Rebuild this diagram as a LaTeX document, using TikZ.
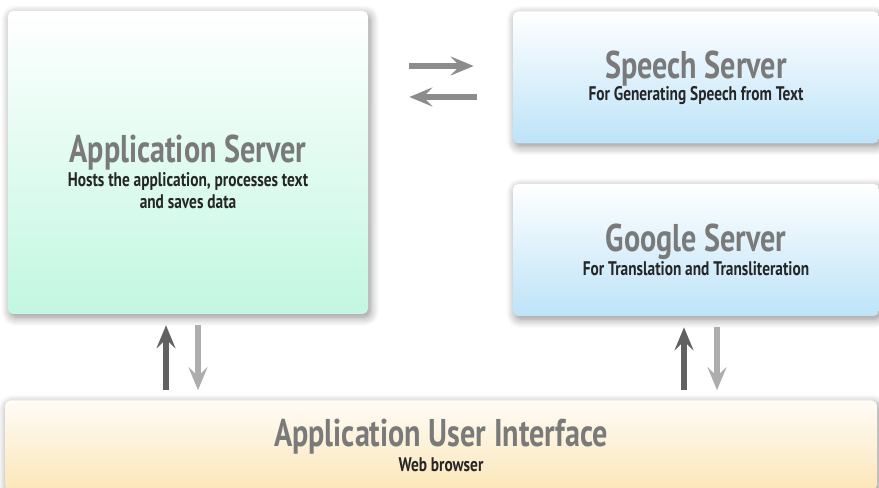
\documentclass[tikz,border=0pt]{standalone}
\usepackage{fontspec}
\setmainfont{PT Sans}[FakeStretch=0.78]
\usetikzlibrary{arrows.meta,calc,positioning,shadows.blur}
\definecolor{mint}{HTML}{C2F7E1}
\definecolor{sky}{HTML}{BDE3F8}
\definecolor{cream}{HTML}{FBE6B8}
\definecolor{titlegray}{HTML}{7A7A7A}
\definecolor{arrowgray}{HTML}{8C8C8C}
\tikzset{
  server/.style={
    draw=none,
    rounded corners=3pt,
    align=center,
    text=black!85,
    font=\bfseries\fontsize{11.2}{12.6}\selectfont,
    blur shadow={
      shadow xshift=1.2pt,
      shadow yshift=-1.8pt,
      shadow blur steps=8,
      shadow blur radius=5pt,
      shadow opacity=45
    }
  },
  app/.style={server,top color=white,bottom color=mint,
    minimum width=7.2cm,minimum height=6.06cm},
  remote/.style={server,top color=white,bottom color=sky,
    minimum width=7.32cm,minimum height=2.64cm},
  client/.style={server,top color=white!60!cream!30,bottom color=cream,
    minimum width=17.44cm,minimum height=1.8cm},
  flow/.style={
    -{Stealth[length=4.6mm,width=3.8mm,inset=1.8mm]},
    line width=2.9pt,
    draw=arrowgray
  },
  flow up/.style={flow,draw=black!62},
  flow down/.style={flow,draw=black!32}
}
\newcommand{\boxtitle}[1]{{\fontsize{22}{24}\selectfont\color{titlegray}#1}}

\begin{document}
\begin{tikzpicture}[x=1cm,y=1cm]
  \useasboundingbox (0,0) rectangle (17.58,9.76);
  \node[app]    (appserver) at (3.76,6.51)
    {\rule{0pt}{26pt}\boxtitle{Application Server}\\[1pt]
     Hosts the application, processes text\\and saves data};
  \node[remote] (speech)    at (13.92,8.21)
    {\boxtitle{Speech Server}\\[0pt]For Generating Speech from Text};
  \node[remote] (google)    at (13.92,4.76)
    {\boxtitle{Google Server}\\[0pt]For Translation and Transliteration};
  \node[client] (ui)        at (8.82,0.85)
    {\boxtitle{Application User Interface}\\[2pt]Web browser};

  \draw[flow,shorten <=0.82cm,shorten >=0.78cm]
    ([yshift=0.23cm]speech.west -| appserver.east) -- ([yshift=0.23cm]speech.west);
  \draw[flow,shorten <=0.72cm,shorten >=0.82cm]
    ([yshift=-0.39cm]speech.west) -- ([yshift=-0.39cm]speech.west -| appserver.east);

  \draw[flow up,shorten <=0.2cm,shorten >=0.22cm]
    ([xshift=-0.44cm]ui.north -| appserver.south) -- ([xshift=-0.44cm]appserver.south);
  \draw[flow down,shorten <=0.22cm,shorten >=0.2cm]
    ([xshift=0.2cm]appserver.south) -- ([xshift=0.2cm]ui.north -| appserver.south);

  \draw[flow up,shorten <=0.2cm,shorten >=0.22cm]
    ([xshift=-0.24cm]ui.north -| google.south) -- ([xshift=-0.24cm]google.south);
  \draw[flow down,shorten <=0.22cm,shorten >=0.2cm]
    ([xshift=0.42cm]google.south) -- ([xshift=0.42cm]ui.north -| google.south);
\end{tikzpicture}
\end{document}
